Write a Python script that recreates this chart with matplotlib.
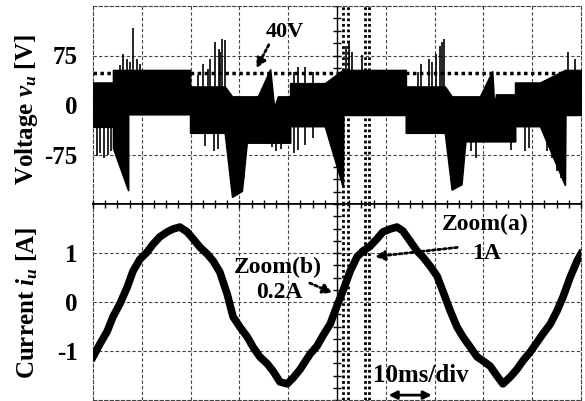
import matplotlib
matplotlib.use("Agg")
import matplotlib.pyplot as plt
import numpy as np

# ---- data (time in ms) ----
# voltage: dense band drawn between an upper and a lower envelope
v_t = [0, 4.1, 4.1, 7.2, 7.2, 19.9, 19.9, 27.0, 28.5, 30.5, 31.5, 33.8, 36.3, 37.1, 37.9, 40.4, 40.4,
       47.5, 51.2, 51.3, 64.1, 64.1, 72.1, 73.5, 75.5, 76.3, 79.3, 81.8, 82.2, 82.6, 86.5, 86.5,
       91.6, 96.7, 96.8, 100]
v_upper = [34, 34, 53, 53, 53, 53, 28, 28, 13, 13, 13, 13, 54, -4, 13, 13, 33,
           33, 53, 53, 53, 28, 28, 13, 13, 13, 13, 51, -2, 16, 16, 34,
           34, 53, 53, 53]
v_lower = [-33, -33, -65, -129, -14, -14, -42, -42, -139, -130, -57, -57, -57, -57, -57, -57, -32,
           -32, -124, -15, -15, -42, -42, -128, -120, -55, -55, -55, -55, -55, -55, -32,
           -32, -121, -15, -15]

# individual spikes (time, low, high)
spike_t = [0.8, 1.5, 2.2, 3.0, 3.6, 5.5, 6.1, 6.9, 7.5, 8.2, 9.0, 9.6,
           21.5, 22.5, 23.5, 24.0, 25.0, 25.8, 26.0, 26.5, 27.0,
           23.0, 24.8, 25.6, 30.0, 31.0, 36.6, 37.5, 38.6, 41.2, 42.0, 43.5, 45.0,
           51.8, 52.4, 53.0, 55.2, 66.5, 67.2, 68.8, 69.5, 70.2, 71.2, 71.6, 72.0,
           77.5, 78.4, 85.6, 88.5, 89.3,
           93.0, 94.0, 95.0, 96.0, 97.4, 98.8]
spike_lo = [-78, -72, -80, -75, -70, 0, 0, 0, 0, 0, 0, 0,
            0, 0, 0, 0, 0, 0, 0, 0, 0,
            -62, -70, -66, -120, -110, -63, -70, -66, -72, -68, -60, -50,
            0, 0, 0, 0, 0, 0, 0, 0, 0, 0, 0, 0,
            -70, -80, -68, -70, -65,
            -70, -80, -100, -110, 0, 0]
spike_hi = [0, 0, 0, 0, 0, 60, 77, 70, 65, 116, 70, 62,
            45, 62, 55, 70, 95, 85, 80, 100, 98,
            0, 0, 0, 0, 0, 0, 0, 0, 50, 58, 58, 50,
            89, 95, 80, 76, 50, 62, 70, 65, 77, 90, 95, 100,
            0, 0, 0, 0, 0,
            0, 0, 0, 0, 81, 70]

# current
i_t = [0, 1.4, 2.9, 4.1, 5.5, 7.0, 8.2, 9.6, 11.1, 12.3, 13.7, 15.2, 16.4, 17.8, 19.3, 20.5,
       21.9, 23.4, 24.6, 26.0, 27.5, 28.7, 30.1, 31.6, 32.8, 34.2, 35.7, 36.9, 38.3, 39.8,
       41.0, 42.4, 44.5, 45.9, 47.1, 48.6, 50.0, 51.2, 52.7, 54.1, 55.3, 56.8, 58.2, 59.4,
       60.9, 62.3, 63.5, 65.0, 66.4, 67.6, 69.1, 70.5, 71.7, 73.2, 74.6, 75.8, 77.3, 78.7,
       79.9, 81.4, 82.8, 84.0, 85.5, 86.9, 88.1, 89.6, 91.0, 92.2, 93.7, 95.1, 96.3, 97.8,
       99.2, 100]
i_val = [-1.12, -0.86, -0.6, -0.3, -0.04, 0.3, 0.63, 0.87, 1.02, 1.18, 1.33, 1.43, 1.49, 1.53,
         1.43, 1.29, 1.12, 0.98, 0.84, 0.61, 0.16, -0.3, -0.51, -0.71, -0.92, -1.12, -1.26,
         -1.41, -1.63, -1.67, -1.55, -1.38, -1.06, -0.9, -0.69, -0.45, -0.08, 0.22, 0.63, 0.92,
         1.04, 1.14, 1.29, 1.43, 1.49, 1.53, 1.45, 1.24, 1.04, 0.92, 0.73, 0.53, 0.22, -0.18,
         -0.51, -0.71, -0.92, -1.12, -1.2, -1.31, -1.51, -1.67, -1.53, -1.37, -1.2, -1.02,
         -0.82, -0.65, -0.45, -0.18, 0.1, 0.51, 0.84, 0.98]

v_ticks = [-75, 0, 75]
i_ticks = [-1, 0, 1]
zoom_lines = [51.2, 52.2, 55.7, 56.6]
level_40v = 48

plt.rcParams['font.family'] = ['Liberation Serif', 'DejaVu Serif']
plt.rcParams['font.weight'] = 'bold'
plt.rcParams['mathtext.fontset'] = 'custom'
plt.rcParams['mathtext.it'] = 'Liberation Serif:italic:bold'
plt.rcParams['mathtext.rm'] = 'Liberation Serif:bold'

fig = plt.figure(figsize=(5.85, 4.01), dpi=100)
W, H = 585, 401
ax_v = fig.add_axes([93 / W, (H - 204) / H, 488 / W, 198 / H])
ax_i = fig.add_axes([93 / W, (H - 400) / H, 488 / W, 196 / H])

grid_kw = dict(color='#444444', lw=0.8, dashes=(3, 2))


def screen(ax, lim, step, ticks):
    ax.set_xlim(0, 100)
    ax.set_ylim(-lim, lim)
    for x in range(10, 100, 10):
        if x != 50:
            ax.axvline(x, **grid_kw, zorder=1)
    for y in np.arange(-lim + step, lim, step):
        ax.axhline(y, **grid_kw, zorder=1)
    for s in ax.spines.values():
        s.set_color('#444444')
        s.set_linewidth(0.8)
        s.set_linestyle((0, (3, 2)))
    ax.set_xticks([])
    ax.set_yticks(ticks)
    ax.set_yticklabels([str(t) for t in ticks], fontsize=18, fontweight='bold')
    ax.tick_params(axis='y', length=0, pad=11)
    # solid centre line with sub-division marks
    ax.axvline(50, color='k', lw=1.0, zorder=2)
    sub = np.arange(-lim, lim + 1e-9, step / 4)
    ax.plot([50] * len(sub), sub, ls='none', marker='_', ms=6, mew=1.0, color='k', zorder=2)
    for z in zoom_lines:
        ax.axvline(z, color='k', ls=(0, (1, 1)), lw=2.0, zorder=5)


screen(ax_v, 150, 75, v_ticks)
screen(ax_i, 2, 1, i_ticks)

# solid horizontal centre of the screen (between the two panels)
ax_v.spines['bottom'].set_linestyle('-')
ax_v.spines['bottom'].set_color('k')
ax_v.spines['bottom'].set_linewidth(1.2)
ax_i.spines['top'].set_linestyle('-')
ax_i.spines['top'].set_color('k')
ax_i.spines['top'].set_linewidth(1.2)
xs = np.arange(0, 100.01, 2.5)
ax_i.plot(xs, [2] * len(xs), ls='none', marker='|', ms=6, mew=1.0, color='k', clip_on=False, zorder=6)

# voltage band
ax_v.fill_between(v_t, v_lower, v_upper, color='k', lw=1.2, zorder=3)
ax_v.vlines(spike_t, spike_lo, spike_hi, color='k', lw=1.2, zorder=3)
ax_v.axhline(level_40v, color='k', ls=(0, (1, 1)), lw=2.5, zorder=4)

# current trace
ax_i.plot(i_t, i_val, color='k', lw=5.5, solid_joinstyle='round', zorder=3)

arrow_kw = dict(arrowstyle='-|>', linestyle=(0, (1, 1)), lw=2, color='k', mutation_scale=14)
txt_kw = dict(fontsize=17, fontweight='bold', ha='center', va='center')

ax_v.annotate('', xy=(33.2, 52), xytext=(36.3, 95), arrowprops=arrow_kw, zorder=6)
ax_v.text(39.3, 110, '40V', **dict(txt_kw, fontsize=16), zorder=6)

ax_i.text(80.3, 1.59, 'Zoom(a)', **txt_kw, zorder=6)
ax_i.text(80.6, 0.98, '1A', **txt_kw, zorder=6)
ax_i.annotate('', xy=(57.2, 0.92), xytext=(75.2, 1.12), arrowprops=arrow_kw, zorder=6)

ax_i.text(37.9, 0.71, 'Zoom(b)', **txt_kw, zorder=6)
ax_i.text(38.1, 0.2, '0.2A', **txt_kw, zorder=6)
ax_i.annotate('', xy=(49.6, 0.16), xytext=(43.9, 0.41), arrowprops=arrow_kw, zorder=6)

ax_i.text(67.2, -1.51, '10ms/div', **dict(txt_kw, fontsize=18), zorder=6)
ax_i.annotate('', xy=(60, -1.9), xytext=(70, -1.9),
              arrowprops=dict(arrowstyle='<|-|>', lw=2, color='k', mutation_scale=12), zorder=6)

fig.text(27 / W, 1 - 110 / H, r'Voltage $v_u$ [V]', rotation=90, fontsize=18, fontweight='bold',
         ha='center', va='center')
fig.text(27 / W, 1 - 303 / H, r'Current $i_u$ [A]', rotation=90, fontsize=18, fontweight='bold',
         ha='center', va='center')

fig.savefig('out.png', dpi=100)
